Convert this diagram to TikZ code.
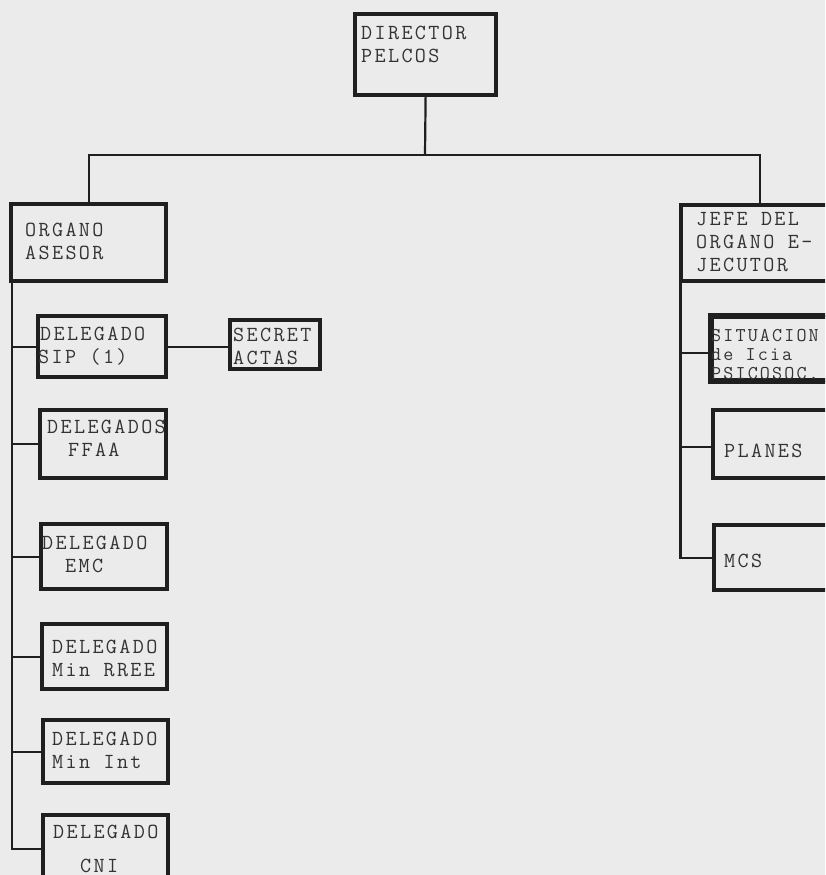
\documentclass[tikz,border=0pt]{standalone}
\usepackage{fontspec}
\newfontfamily\tw[LetterSpace=11]{Latin Modern Mono}
\begin{document}
\begin{tikzpicture}[x=1pt,y=-1pt,
  box/.style={draw=black!88, line width=4.2pt, rectangle, inner sep=0pt, anchor=north west},
  lbl/.style={inner sep=0pt, anchor=base west, align=left, text=black!80,
     font=\tw\fontsize{21.5}{23}\selectfont},
  small/.style={font=\tw\fontsize{19.5}{19}\selectfont},
  conn/.style={draw=black!88, line width=2.2pt}]
\useasboundingbox (0,0) rectangle (825,875);
\fill[black!8] (0,0) rectangle (825,875);
\clip (0,0) rectangle (825,875);
% boxes
\node[box, minimum width=141, minimum height=81] (dir) at (353,12) {};
\node[box, minimum width=155, minimum height=77] (org) at (9,202) {};
\node[box, minimum width=158, minimum height=76] (jefe) at (679,203) {};
\node[box, minimum width=128, minimum height=61] (sip) at (36,314) {};
\node[box, minimum width=90, minimum height=49] (sec) at (228,318) {};
\node[box, minimum width=126, minimum height=68] (ffaa) at (38,408) {};
\node[box, minimum width=126, minimum height=65] (emc) at (39,522) {};
\node[box, minimum width=125, minimum height=65] (rree) at (40,622) {};
\node[box, minimum width=125, minimum height=63] (mint) at (41,718) {};
\node[box, minimum width=125, minimum height=68] (cni) at (41,813) {};
\node[box, minimum width=130, minimum height=63] (sit) at (710,315) {};
\node[box, minimum width=130, minimum height=68] (pla) at (711,408) {};
\node[box, minimum width=130, minimum height=65] (mcs) at (712,523) {};
% labels (anchored at the baseline of the last line)
\node[lbl] (tdir) at (361,63) {DIRECTOR\\PELCOS};
\node[lbl] (torg) at (25,259) {ORGANO\\ASESOR};
\node[lbl] (tjefe) at (696,271) {JEFE DEL\\ORGANO E-\\JECUTOR};
\node[lbl] (tsip) at (38,363) {\hspace*{2pt}DELEGADO\\SIP (1)};
\node[lbl] (tsec) at (233,364) {SECRET\\ACTAS};
\node[lbl] (tffaa) at (47,456) {DELEGADOS\\\hspace*{21pt}FFAA};
\node[lbl] (temc) at (42,572) {DELEGADO\\\hspace*{23pt}EMC};
\node[lbl] (trree) at (52,676) {DELEGADO\\Min RREE};
\node[lbl] (tmint) at (52,768) {DELEGADO\\Min Int};
\node[lbl] (tcni) at (53,872) {DELEGADO\\[11pt]\hspace*{27pt}CNI};
\begin{scope}
\clip (sit.north west) rectangle (sit.south east);
\node[lbl, small] (tsit) at (711,379) {SITUACION\\de Icia\\PSICOSOC.};
\end{scope}
\node[lbl] (tpla) at (724,457) {PLANES};
\node[lbl] (tmcs) at (724,567) {MCS};
% redraw situacion border on top of its text
\draw[draw=black!88, line width=4.2pt] (sit.north west) rectangle (sit.south east);
% connectors
\coordinate (bus) at (425,155);
\draw[conn] (dir.south) -- (bus);
\draw[conn] (org.north) -- (org.north |- bus) -- (jefe.north |- bus) -- (jefe.north);
\coordinate (spL) at ([xshift=3pt]org.south west);
\coordinate (spR) at ([xshift=1.5pt]jefe.south west);
\draw[conn] (spL) |- (cni.west);
\draw[conn] (sip.west) -- (sip.west -| spL);
\draw[conn] (ffaa.west) -- (ffaa.west -| spL);
\draw[conn] (emc.west) -- (emc.west -| spL);
\draw[conn] (rree.west) -- (rree.west -| spL);
\draw[conn] (mint.west) -- (mint.west -| spL);
\draw[conn] (sip.east) -- (sip.east -| sec.west);
\draw[conn] (spR) |- (mcs.west);
\draw[conn] ([yshift=-4.5pt]sit.west) -- ([yshift=-4.5pt]sit.west -| spR);
\draw[conn] ([yshift=-3pt]pla.west) -- ([yshift=-3pt]pla.west -| spR);
\end{tikzpicture}
\end{document}
